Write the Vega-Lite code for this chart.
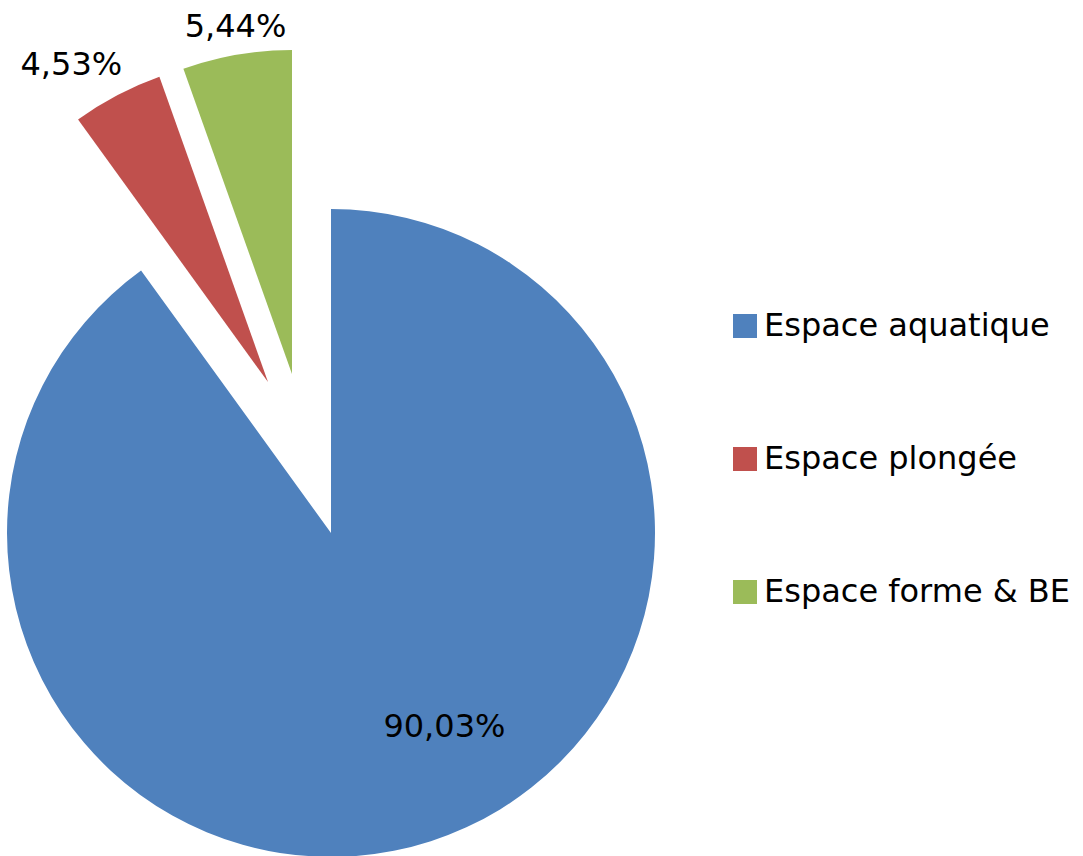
{
  "$schema": "https://vega.github.io/schema/vega-lite/v6.json",
  "width": 612,
  "height": 856,
  "padding": 0,
  "background": "white",
  "config": {"view": {"stroke": null}},
  "data": {
    "values": [
      {"category": "Espace aquatique", "value": 90.03, "label": "90,03%", "order": 1},
      {"category": "Espace plongée", "value": 4.53, "label": "4,53%", "order": 2},
      {"category": "Espace forme & BE", "value": 5.44, "label": "5,44%", "order": 3}
    ]
  },
  "layer": [
    {
      "transform": [
        {"stack": "value", "groupby": [], "sort": [{"field": "order"}], "as": ["v0", "v1"]}
      ],
      "encoding": {
        "theta": {"field": "v0", "type": "quantitative", "scale": {"domain": [0, 100]}},
        "theta2": {"field": "v1"},
        "color": {
          "field": "category",
          "type": "nominal",
          "scale": {
            "domain": ["Espace aquatique", "Espace plongée", "Espace forme & BE"],
            "range": ["#4F81BD", "#C0504D", "#9BBB59"]
          },
          "legend": {
            "title": null,
            "orient": "none",
            "legendX": 729,
            "legendY": 310,
            "symbolType": "square",
            "symbolSize": 576,
            "symbolStrokeWidth": 0,
            "labelFont": "DejaVu Sans",
            "labelFontSize": 32,
            "labelColor": "#000000",
            "labelOffset": 3,
            "rowPadding": 101,
            "labelLimit": 400
          }
        }
      },
      "layer": [
        {
          "transform": [{"filter": "datum.category === 'Espace aquatique'"}],
          "mark": {"type": "arc", "outerRadius": 324, "xOffset": 25, "yOffset": 105}
        },
        {
          "transform": [{"filter": "datum.category === 'Espace plongée'"}],
          "mark": {"type": "arc", "outerRadius": 324, "xOffset": -38, "yOffset": -46}
        },
        {
          "transform": [{"filter": "datum.category === 'Espace forme & BE'"}],
          "mark": {"type": "arc", "outerRadius": 324, "xOffset": -14, "yOffset": -54}
        }
      ]
    },
    {
      "encoding": {
        "theta": {"field": "value", "type": "quantitative", "stack": true, "scale": {"domain": [0, 100]}},
        "order": {"field": "order"},
        "color": {"value": "#000000"}
      },
      "layer": [
        {
          "mark": {"type": "text", "radius": 222, "xOffset": 70, "yOffset": 88, "font": "DejaVu Sans", "fontSize": 32, "align": "center", "baseline": "middle"},
          "encoding": {"text": {"condition": {"test": "datum.category === 'Espace aquatique'", "field": "label"}, "value": ""}}
        },
        {
          "mark": {"type": "text", "radius": 371, "xOffset": -62, "yOffset": -35, "font": "DejaVu Sans", "fontSize": 32, "align": "center", "baseline": "middle"},
          "encoding": {"text": {"condition": {"test": "datum.category === 'Espace plongée'", "field": "label"}, "value": ""}}
        },
        {
          "mark": {"type": "text", "radius": 350, "xOffset": -11, "yOffset": -56, "font": "DejaVu Sans", "fontSize": 32, "align": "center", "baseline": "middle"},
          "encoding": {"text": {"condition": {"test": "datum.category === 'Espace forme & BE'", "field": "label"}, "value": ""}}
        }
      ]
    }
  ]
}
